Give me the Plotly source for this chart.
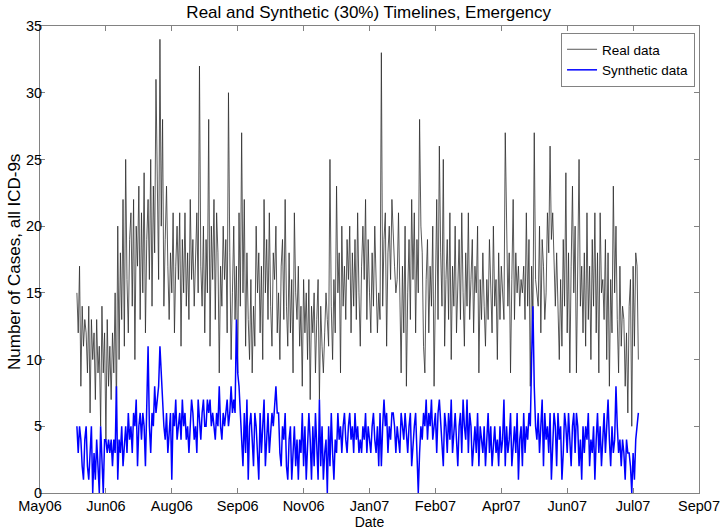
import pandas as pd
import plotly.graph_objects as go

title = "Real and Synthetic (30%) Timelines, Emergency"
x_title = "Date"
y_title = "Number of Cases, all ICD-9s"
start_date = "2006-05-31"

real_data = [
    15, 12, 17, 8, 14, 11, 13,
    12, 9, 14, 6, 13, 10, 12,
    7, 13, 9, 11, 5, 14, 9,
    12, 4, 13, 8, 11, 7, 12,
    9, 15, 6, 20, 10, 18, 13,
    22, 11, 25, 16, 12, 19, 21,
    14, 22, 10, 20, 17, 23, 13,
    21, 15, 24, 12, 19, 22, 16,
    25, 14, 23, 18, 31, 21, 16,
    34, 20, 28, 14, 19, 23, 17,
    13, 18, 15, 21, 12, 17, 20,
    16, 21, 11, 19, 15, 21, 14,
    18, 13, 22, 16, 19, 14, 17,
    21, 15, 32, 17, 14, 20, 12,
    19, 15, 28, 11, 20, 16, 22,
    13, 21, 18, 9, 17, 14, 20,
    16, 19, 12, 30, 18, 10, 15,
    20, 13, 17, 9, 21, 14, 27,
    15, 22, 11, 18, 13, 10, 16,
    9, 14, 11, 20, 15, 18, 12,
    17, 10, 22, 15, 19, 13, 21,
    14, 11, 18, 16, 20, 12, 15,
    10, 17, 19, 13, 22, 14, 11,
    18, 12, 16, 9, 21, 15, 13,
    17, 11, 14, 8, 16, 12, 15,
    10, 16, 7, 14, 12, 15, 9,
    13, 16, 7, 14, 11, 9, 12,
    15, 13, 11, 25, 14, 10, 16,
    12, 23, 15, 18, 9, 20, 14,
    17, 13, 19, 16, 20, 12, 18,
    14, 19, 13, 21, 15, 11, 17,
    20, 16, 22, 13, 19, 15, 12,
    18, 14, 20, 16, 12, 15, 13,
    33, 14, 19, 21, 11, 18, 20,
    16, 22, 19, 17, 15, 16, 21,
    14, 9, 17, 12, 20, 8, 15,
    19, 13, 22, 16, 21, 12, 19,
    15, 28, 20, 18, 11, 9, 16,
    19, 12, 17, 14, 20, 8, 15,
    22, 13, 26, 18, 14, 25, 11,
    16, 19, 13, 21, 10, 17, 14,
    20, 12, 16, 19, 13, 21, 15,
    11, 18, 14, 21, 13, 16, 19,
    12, 17, 15, 20, 9, 16, 13,
    18, 14, 11, 16, 13, 19, 15,
    12, 20, 14, 16, 10, 18, 13,
    17, 15, 13, 27, 19, 14, 18,
    9, 16, 22, 13, 18, 15, 17,
    14, 16, 15, 17, 13, 21, 14,
    19, 8, 17, 13, 27, 16, 15,
    14, 20, 12, 19, 17, 13, 15,
    21, 18, 26, 19, 21, 17, 14,
    18, 13, 10, 16, 11, 19, 14,
    24, 12, 18, 9, 17, 23, 15,
    20, 9, 19, 25, 14, 17, 12,
    18, 11, 21, 13, 17, 10, 19,
    14, 21, 12, 18, 9, 21, 15,
    16, 13, 19, 10, 18, 8, 16,
    12, 23, 15, 20, 13, 9, 17,
    11, 14, 13, 8, 12, 6, 14,
    16, 5, 17, 11, 18, 17, 10,
]

synthetic_data = [
    5, 3, 5, 4, 2, 1, 4,
    5, 2, 1, 3, 5, 0, 3,
    1, 4, 2, 0, 5, 3, 0,
    4, 4, 3, 4, 3, 4, 2,
    4, 3, 8, 1, 4, 3, 5,
    2, 4, 5, 3, 6, 4, 5,
    3, 6, 5, 7, 2, 5, 6,
    4, 6, 5, 2, 7, 11, 5,
    3, 6, 5, 8, 6, 7, 8,
    11, 9, 6, 5, 4, 6, 3,
    5, 6, 1, 6, 5, 7, 4,
    5, 6, 4, 7, 5, 6, 4,
    5, 3, 5, 7, 6, 4, 5,
    3, 7, 5, 4, 6, 7, 5,
    5, 7, 6, 7, 5, 6, 5,
    4, 6, 5, 8, 5, 4, 6,
    5, 6, 7, 5, 6, 8, 6,
    7, 6, 13, 9, 8, 6, 4,
    2, 6, 3, 7, 1, 5, 6,
    4, 2, 6, 5, 3, 1, 6,
    3, 5, 7, 2, 4, 6, 3,
    5, 6, 5, 7, 8, 6, 6,
    3, 2, 5, 4, 6, 2, 1,
    4, 5, 1, 3, 5, 2, 4,
    1, 4, 3, 6, 2, 5, 1,
    3, 6, 4, 1, 5, 2, 6,
    4, 1, 7, 2, 5, 1, 3,
    4, 0, 5, 2, 6, 3, 1,
    4, 3, 6, 4, 5, 3, 5,
    6, 4, 3, 5, 6, 4, 5,
    3, 6, 4, 5, 3, 4, 3,
    5, 4, 6, 3, 5, 4, 3,
    5, 6, 4, 3, 5, 2, 6,
    2, 5, 7, 5, 6, 3, 5,
    4, 6, 6, 5, 3, 5, 4,
    3, 6, 5, 4, 6, 4, 3,
    5, 6, 2, 4, 5, 6, 2,
    0, 3, 5, 4, 6, 5, 7,
    4, 6, 5, 7, 4, 5, 6,
    3, 6, 7, 5, 4, 2, 6,
    5, 3, 6, 4, 7, 3, 5,
    6, 4, 2, 5, 6, 3, 7,
    5, 4, 7, 3, 6, 5, 2,
    4, 5, 3, 6, 2, 5, 4,
    3, 5, 2, 4, 6, 3, 5,
    2, 4, 5, 3, 4, 2, 5,
    3, 4, 7, 2, 5, 3, 4,
    6, 2, 4, 5, 3, 6, 1,
    4, 5, 2, 6, 3, 5, 4,
    6, 5, 10, 14, 8, 5, 4,
    6, 3, 5, 7, 2, 6, 4,
    5, 3, 6, 1, 4, 6, 5,
    2, 6, 4, 5, 1, 3, 6,
    5, 3, 6, 4, 2, 5, 6,
    3, 6, 5, 2, 4, 1, 5,
    3, 5, 4, 6, 2, 4, 3,
    5, 1, 4, 6, 3, 5, 2,
    4, 6, 3, 5, 7, 4, 2,
    5, 3, 4, 8, 5, 3, 4,
    2, 4, 3, 1, 4, 3, 3,
    2, 0, 3, 1, 4, 5, 6,
]

x_tick_dates = ["2006-05-03", "2006-06-22", "2006-08-11", "2006-09-30",
                "2006-11-19", "2007-01-08", "2007-02-27", "2007-04-18",
                "2007-06-07", "2007-07-27", "2007-09-15"]
x_tick_labels = ["May06", "Jun06", "Aug06", "Sep06", "Nov06", "Jan07",
                 "Feb07", "Apr07", "Jun07", "Jul07", "Sep07"]
y_ticks = [0, 5, 10, 15, 20, 25, 30, 35]

dates = pd.date_range(start=start_date, periods=len(real_data), freq="D")

FONT = "Liberation Sans, Arial, sans-serif"
GRAY = "rgb(130,130,130)"

fig = go.Figure()
fig.add_trace(go.Scatter(x=dates, y=real_data, mode="lines", name="Real data",
                         line=dict(color="rgb(45,45,45)", width=0.8)))
fig.add_trace(go.Scatter(x=dates, y=synthetic_data, mode="lines", name="Synthetic data",
                         line=dict(color="rgb(0,0,255)", width=1.5)))

axis_common = dict(showline=True, linecolor=GRAY, linewidth=1,
                   mirror="ticks", ticks="inside", ticklen=5,
                   tickcolor=GRAY, showgrid=False, zeroline=False)

fig.update_layout(
    width=723, height=530,
    margin=dict(l=40, r=24, t=26, b=37),
    paper_bgcolor="white", plot_bgcolor="white",
    font=dict(family=FONT, size=14, color="black"),
    title=dict(text=title, x=0.51, xanchor="center", xref="container",
               y=1 - 12 / 530, yanchor="middle", yref="container",
               font=dict(family=FONT, size=17, color="black")),
    xaxis=dict(type="date", range=[x_tick_dates[0], x_tick_dates[-1]],
               tickmode="array", tickvals=x_tick_dates, ticktext=x_tick_labels,
               tickfont=dict(family=FONT, size=14.5, color="black"),
               title=dict(text=x_title, standoff=3, font=dict(family=FONT, size=14)),
               automargin=False, **axis_common),
    yaxis=dict(range=[0, 35], tickmode="array", tickvals=y_ticks,
               tickfont=dict(family=FONT, size=14.5, color="black"),
               ticklabelstandoff=-6,
               automargin=False, **axis_common),
    legend=dict(x=0.994, xanchor="right", y=0.985, yanchor="top",
                bgcolor="white", bordercolor=GRAY, borderwidth=1,
                font=dict(family=FONT, size=13.5), tracegroupgap=0,
                itemwidth=30),
    showlegend=True,
    annotations=[dict(text=y_title, textangle=-90, xref="paper", yref="paper",
                      x=(14 - 40) / 659, y=(493 - 262) / 467,
                      xanchor="center", yanchor="middle", showarrow=False,
                      font=dict(family=FONT, size=17, color="black"))],
)

fig.write_html("out.html", config={"displayModeBar": False},
               post_script="document.body.style.margin='0px';")
